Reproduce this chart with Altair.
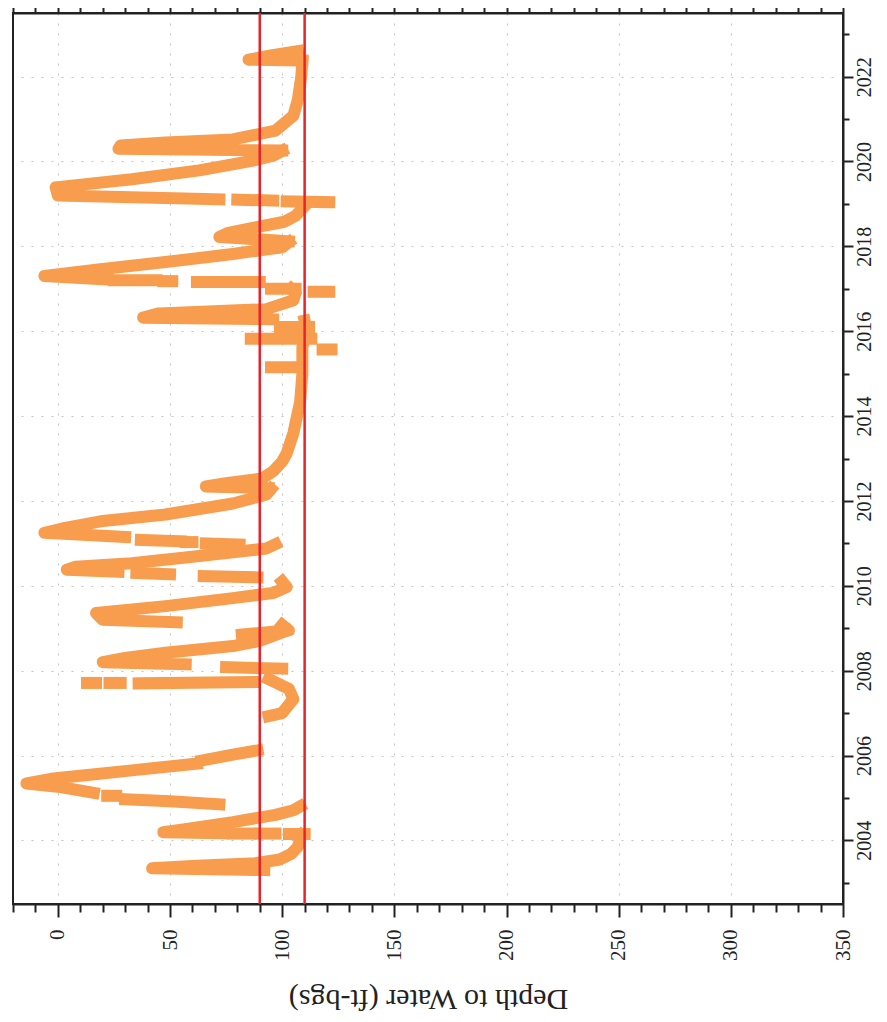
import altair as alt
import pandas as pd

# ---- data: (segment, decimal year, depth to water ft-bgs) ----
seg = []
year = []
depth = []

def add(sid, pts):
    for y, d in pts:
        seg.append(sid)
        year.append(y)
        depth.append(d)

s01 = [(2003.30, 92), (2003.34, 42), (2003.40, 62), (2003.46, 88), (2003.55, 99), (2003.68, 104), (2003.85, 107), (2004.05, 108), (2004.13, 109)]
s02 = [(2004.15, 110), (2004.15, 103)]
s03 = [(2004.16, 97), (2004.16, 90)]
s04 = [(2004.16, 86), (2004.16, 78)]
s05 = [(2004.17, 74), (2004.19, 47), (2004.26, 56), (2004.43, 78), (2004.60, 97), (2004.71, 105), (2004.80, 108)]
s06 = [(2004.85, 72), (2004.92, 50), (2004.97, 30)]
s07 = [(2005.05, 26), (2005.05, 22)]
s08 = [(2005.12, 16), (2005.25, 2), (2005.34, -14), (2005.45, -3), (2005.53, 11), (2005.65, 33), (2005.81, 62)]
s09 = [(2005.88, 64), (2006.02, 78), (2006.12, 89)]
s10 = [(2006.93, 94), (2007.00, 100), (2007.33, 105), (2007.57, 103), (2007.80, 94)]
s11 = [(2007.71, 13), (2007.71, 17)]
s12 = [(2007.71, 23), (2007.71, 28)]
s13 = [(2007.70, 36), (2007.73, 87)]
s14 = [(2008.05, 100), (2008.08, 75)]
s15 = [(2008.15, 57), (2008.20, 20), (2008.30, 30), (2008.42, 48), (2008.58, 78), (2008.70, 90), (2008.94, 102)]
s16 = [(2008.85, 82), (2008.95, 103), (2009.08, 100)]
s17 = [(2009.14, 53), (2009.20, 20), (2009.36, 17), (2009.52, 48), (2009.71, 78), (2009.83, 96), (2009.97, 102), (2010.10, 100)]
s18 = [(2010.20, 89), (2010.23, 65)]
s19 = [(2010.27, 50), (2010.30, 35)]
s20 = [(2010.33, 27), (2010.38, 4), (2010.45, 8), (2010.53, 33), (2010.70, 63), (2010.88, 93), (2010.98, 97)]
s21 = [(2010.97, 81), (2011.00, 66)]
s22 = [(2011.03, 60), (2011.03, 57)]
s23 = [(2011.05, 55), (2011.08, 37)]
s24 = [(2011.15, 30), (2011.25, -6), (2011.35, 2), (2011.52, 19), (2011.68, 48), (2011.94, 78), (2012.15, 93), (2012.28, 95)]
s25 = [(2012.30, 94), (2012.34, 66), (2012.42, 75), (2012.53, 91), (2012.70, 96), (2012.93, 100), (2013.12, 102), (2013.60, 105), (2014.34, 108), (2015.00, 109), (2015.63, 109), (2016.00, 111), (2016.25, 110)]
s26 = [(2015.15, 95), (2015.15, 108)]
s27 = [(2015.57, 118), (2015.57, 122)]
s28 = [(2015.82, 86), (2015.82, 113)]
s29 = [(2016.10, 99), (2016.10, 112)]
s30 = [(2016.28, 96), (2016.32, 38), (2016.42, 45), (2016.52, 93), (2016.73, 105), (2016.90, 106), (2017.00, 104)]
s31 = [(2016.93, 114), (2016.93, 121)]
s32 = [(2017.00, 95), (2017.00, 106)]
s33 = [(2017.16, 62), (2017.16, 90)]
s34 = [(2017.18, 47), (2017.18, 51)]
s35 = [(2017.20, 25), (2017.20, 44)]
s36 = [(2017.22, 22), (2017.30, -6), (2017.46, 19), (2017.63, 48), (2017.82, 78), (2017.98, 100), (2018.10, 103)]
s37 = [(2018.12, 103), (2018.22, 72), (2018.32, 76), (2018.45, 88), (2018.58, 101), (2018.72, 106), (2018.95, 110)]
s38 = [(2019.04, 121), (2019.06, 102)]
s39 = [(2019.08, 96), (2019.10, 80)]
s40 = [(2019.11, 72), (2019.20, 0), (2019.39, -1), (2019.58, 33), (2019.79, 63), (2020.02, 87), (2020.14, 96), (2020.25, 100)]
s41 = [(2020.26, 100), (2020.30, 27), (2020.38, 28), (2020.45, 48), (2020.52, 78), (2020.73, 97), (2021.08, 105), (2021.46, 107), (2022.00, 108.5), (2022.37, 109)]
s42 = [(2022.38, 109), (2022.40, 85), (2022.50, 95), (2022.60, 107)]

all_segs = [s01, s02, s03, s04, s05, s06, s07, s08, s09, s10, s11, s12, s13, s14,
            s15, s16, s17, s18, s19, s20, s21, s22, s23, s24, s25, s26, s27, s28,
            s29, s30, s31, s32, s33, s34, s35, s36, s37, s38, s39, s40, s41, s42]
for k, s in enumerate(all_segs):
    add(k, s)

ref_depths = [90, 110]
depth_ticks = list(range(-20, 351, 10))
year_ticks = list(range(2003, 2024))

df = pd.DataFrame({"seg": seg, "year": year, "depth": depth, "i": range(len(seg))})
ref_df = pd.DataFrame({"ref": ref_depths})

SERIF = "Liberation Serif"
INK = "#222222"

xscale = alt.Scale(domain=[-20, 350], nice=False, zero=False)
yscale = alt.Scale(domain=[2002.5, 2023.5], nice=False, zero=False)

major50 = "datum.value % 50 === 0"

bottom_axis = alt.Axis(
    orient="bottom", values=depth_ticks,
    labelExpr="datum.value % 50 === 0 && datum.value >= 0 ? datum.label : ''",
    labelAngle=270, labelAlign="right", labelBaseline="middle",
    labelFont=SERIF, labelFontSize=21, labelColor=INK, labelPadding=12,
    labelOverlap=False, labelFlush=False,
    tickSize={"condition": {"test": major50, "value": 13}, "value": 8},
    tickColor=INK, tickWidth=2, domainColor=INK, domainWidth=2,
    grid=True, gridColor="#999999", gridDash=[2, 8],
    gridOpacity={"condition": {"test": "datum.value % 50 === 0 && datum.value >= 0 && datum.value < 350", "value": 0.6}, "value": 0},
    title="Depth to Water (ft-bgs)", titleAngle=180, titleFont=SERIF,
    titleFontSize=30, titleFontWeight="normal", titleColor=INK,
    titleBaseline="bottom", titleY=79, titleX=415,
)

top_axis = alt.Axis(
    orient="top", values=depth_ticks, labels=False, title=None, grid=False,
    tickSize={"condition": {"test": major50, "value": 10}, "value": 7},
    tickColor=INK, tickWidth=2, domainColor=INK, domainWidth=2,
)

right_axis = alt.Axis(
    orient="right", values=year_ticks, format="d",
    labelExpr="datum.value % 2 === 0 ? datum.label : ''",
    labelAngle=270, labelAlign="center", labelBaseline="top",
    labelFont=SERIF, labelFontSize=20, labelColor=INK, labelPadding=1,
    labelOverlap=False, labelFlush=False,
    tickSize={"condition": {"test": "datum.value % 2 === 0", "value": 10}, "value": 6},
    tickColor=INK, tickWidth=2, domainColor=INK, domainWidth=2,
    grid=True, gridColor="#999999", gridDash=[2, 8],
    gridOpacity={"condition": {"test": "datum.value % 2 === 0", "value": 0.6}, "value": 0},
    title=None,
)

series = alt.Chart(df).mark_line(
    color="#F89C4E", strokeWidth=12, strokeCap="square", strokeJoin="round"
).encode(
    x=alt.X("depth:Q", scale=xscale, axis=bottom_axis),
    y=alt.Y("year:Q", scale=yscale, axis=right_axis),
    detail="seg:N",
    order=alt.Order("i:Q"),
)

rules = alt.Chart(ref_df).mark_rule(color="#E8232B", strokeWidth=2.5).encode(
    x=alt.X("ref:Q", scale=xscale, axis=top_axis),
)

chart = alt.layer(series, rules).resolve_axis(x="independent").properties(
    width=830, height=891,
    autosize=alt.AutoSizeParams(type="none"),
    padding={"left": 5, "top": 5, "right": 36, "bottom": 116},
).configure_view(stroke=INK, strokeWidth=2)

chart.save("out.html", embed_options={"renderer": "svg", "actions": False})
